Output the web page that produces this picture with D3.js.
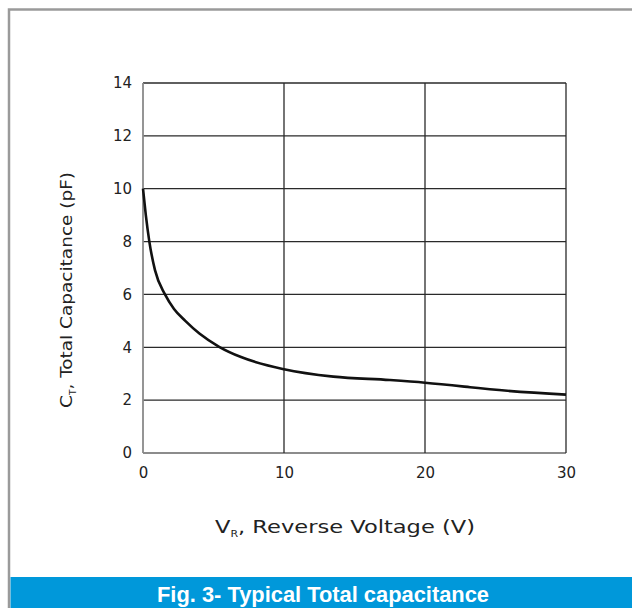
<!DOCTYPE html>
<html>
<head>
<meta charset="utf-8">
<script src="https://cdn.jsdelivr.net/npm/d3@7"></script>
<style>
  body { margin: 0; background: #fff; }
  text { font-family: "DejaVu Sans", sans-serif; fill: #222; }
</style>
</head>
<body>
<div class="chart"></div>
<script>
// curve: reverse voltage (V) vs total capacitance (pF)
var voltage = [0, 0.2, 0.45, 0.85, 1.56, 2.2, 3, 4, 5.4, 7, 10, 13.5, 17.5, 20, 23.2, 24.6, 30];
var capacitance = [10, 9.0, 8, 6.92, 6, 5.45, 5.0, 4.52, 4.02, 3.62, 3.17, 2.89, 2.76, 2.66, 2.49, 2.41, 2.21];

var xTicks = [0, 10, 20, 30];
var yTicks = [0, 2, 4, 6, 8, 10, 12, 14];

var svgWidth = 632;
var svgHeight = 608;

var margin = { top: 83, left: 143 };
var width = 423;
var height = 370;

var svg = d3.select(".chart")
  .append("svg")
  .attr("width", svgWidth)
  .attr("height", svgHeight);

// outer frame
svg.append("path")
  .attr("d", "M9,608 V9.5 H632")
  .attr("fill", "none")
  .attr("stroke", "#9a9a9a")
  .attr("stroke-width", 2.5);

// caption bar
svg.append("rect")
  .attr("x", 10.5)
  .attr("y", 577)
  .attr("width", svgWidth - 10.5)
  .attr("height", 31)
  .attr("fill", "#0098da");

svg.append("text")
  .attr("x", 157)
  .attr("y", 602)
  .attr("textLength", 332)
  .attr("lengthAdjust", "spacingAndGlyphs")
  .style("font-family", "'Liberation Sans Narrow', 'Liberation Sans', Arial, sans-serif")
  .style("font-weight", "bold")
  .style("font-size", "21.5px")
  .style("fill", "#fff")
  .text("Fig. 3- Typical Total capacitance");

var chartGroup = svg.append("g")
  .attr("transform", `translate(${margin.left}, ${margin.top})`);

var xScale = d3.scaleLinear().domain([0, 30]).range([0, width]);
var yScale = d3.scaleLinear().domain([0, 14]).range([height, 0]);

// grid
chartGroup.selectAll(".hgrid")
  .data(yTicks)
  .enter()
  .append("line")
  .attr("x1", 0)
  .attr("x2", width)
  .attr("y1", d => yScale(d))
  .attr("y2", d => yScale(d))
  .attr("stroke", d => d === 0 ? "#666" : "#2a2a2a")
  .attr("stroke-width", 1.3);

chartGroup.selectAll(".vgrid")
  .data(xTicks)
  .enter()
  .append("line")
  .attr("x1", d => xScale(d))
  .attr("x2", d => xScale(d))
  .attr("y1", 0)
  .attr("y2", height)
  .attr("stroke", d => d === 0 ? "#8a8a8a" : "#2a2a2a")
  .attr("stroke-width", d => d === 0 ? 1.8 : 1.3);

// axes (labels only)
var leftAxis = d3.axisLeft(yScale).tickValues(yTicks).tickSize(0).tickPadding(11);
var bottomAxis = d3.axisBottom(xScale).tickValues(xTicks).tickSize(0).tickPadding(14);

var yAxisG = chartGroup.append("g").call(leftAxis);
var xAxisG = chartGroup.append("g")
  .attr("transform", `translate(0, ${height})`)
  .call(bottomAxis);

[yAxisG, xAxisG].forEach(function(g) {
  g.select(".domain").remove();
  g.selectAll("text")
    .style("font-family", "'DejaVu Sans', sans-serif")
    .style("font-size", "15px")
    .style("fill", "#222");
});

// curve
var data = voltage.map((v, i) => ({ v: v, c: capacitance[i] }));
var line = d3.line()
  .x(d => xScale(d.v))
  .y(d => yScale(d.c))
  .curve(d3.curveMonotoneX);

chartGroup.append("path")
  .datum(data)
  .attr("d", line)
  .attr("fill", "none")
  .attr("stroke", "#111")
  .attr("stroke-width", 2.6);

// axis titles (the source lettering is a little wider than DejaVu)
var yTitle = svg.append("text")
  .attr("transform", "translate(72, 290) rotate(-90) scale(1.12, 1)")
  .attr("text-anchor", "middle")
  .style("font-size", "16.5px");
yTitle.append("tspan").text("C");
yTitle.append("tspan").attr("dy", 4).style("font-size", "8px").text("T");
yTitle.append("tspan").attr("dy", -4).text(", Total Capacitance (pF)");

var xTitle = svg.append("text")
  .attr("transform", "translate(345, 533) scale(1.22, 1)")
  .attr("text-anchor", "middle")
  .style("font-size", "18.5px");
xTitle.append("tspan").text("V");
xTitle.append("tspan").attr("dy", 4).style("font-size", "9px").text("R");
xTitle.append("tspan").attr("dy", -4).text(", Reverse Voltage (V)");
</script>
</body>
</html>
